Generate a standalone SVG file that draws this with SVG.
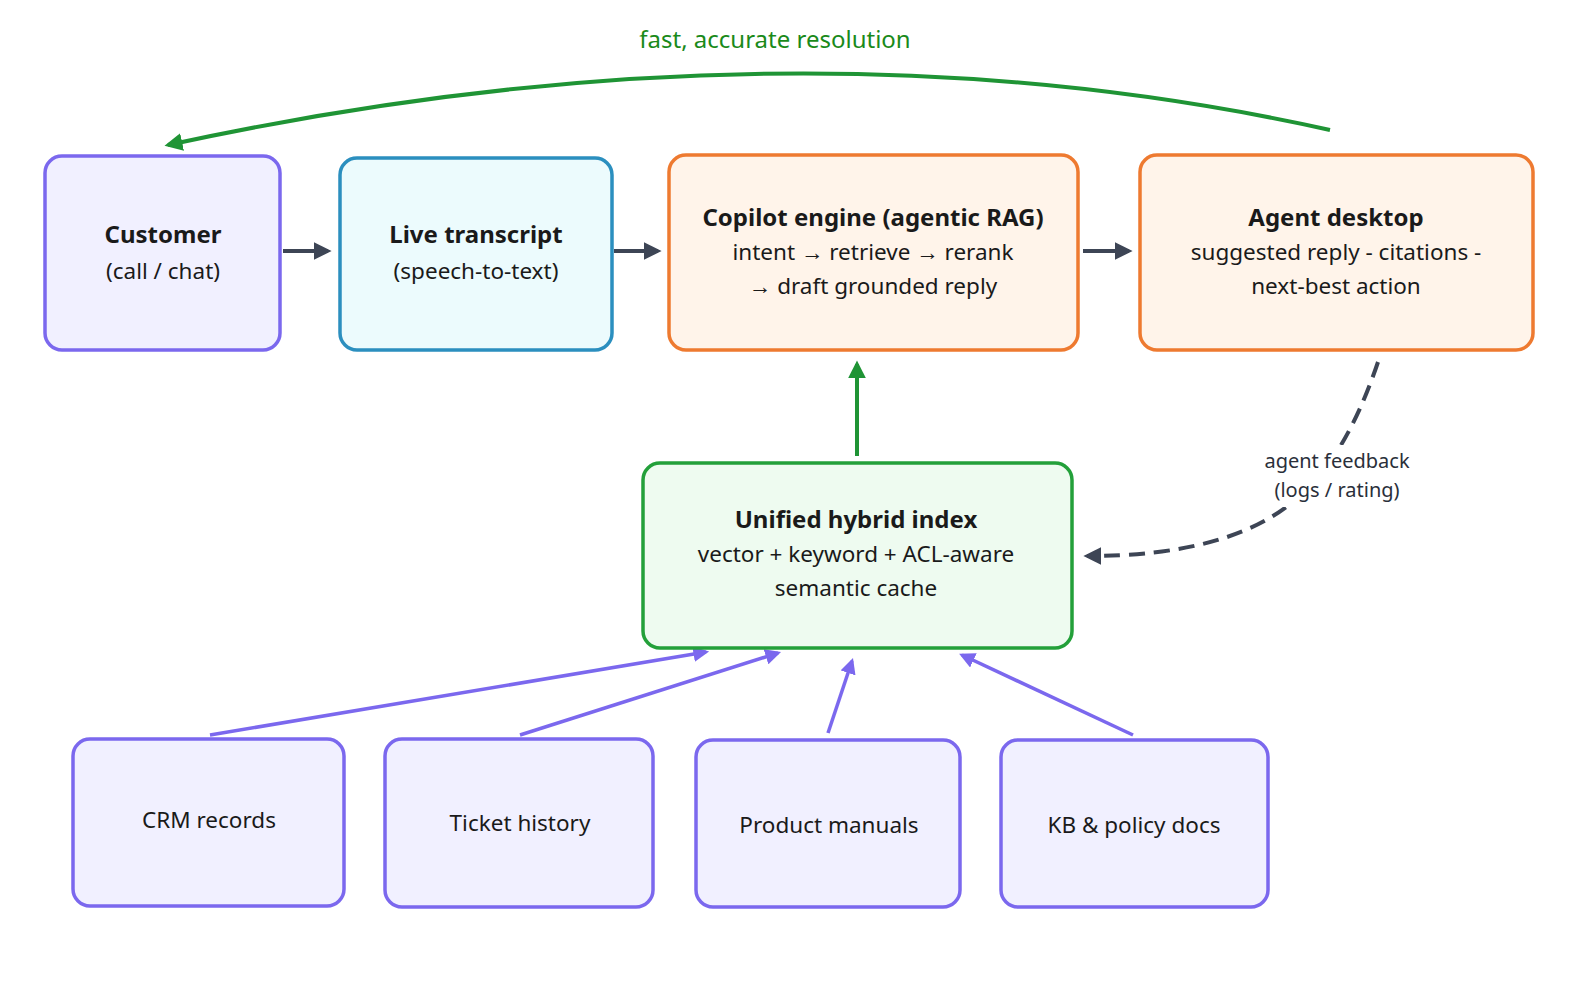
<svg xmlns="http://www.w3.org/2000/svg" width="1570" height="1002" viewBox="0 0 1570 1002">
<defs>
<marker id="ad" viewBox="0 0 10 10" refX="8" refY="5" markerWidth="4.5" markerHeight="4.5" orient="auto"><path d="M0,0L10,5L0,10z" fill="#3d4555"/></marker>
<marker id="ag" viewBox="0 0 10 10" refX="8" refY="5" markerWidth="4.5" markerHeight="4.5" orient="auto"><path d="M0,0L10,5L0,10z" fill="#1f9435"/></marker>
<marker id="ap" viewBox="0 0 10 10" refX="8" refY="5" markerWidth="4.5" markerHeight="4.5" orient="auto"><path d="M0,0L10,5L0,10z" fill="#7b68ee"/></marker>
</defs>
<style>
text{font-family:"Noto Sans","Open Sans",sans-serif;fill:#1a1a1a;text-anchor:middle}
.t{font-size:24px;font-weight:bold}
.s{font-size:22.5px}
.pu{fill:#f1f0ff;stroke:#7b68ee;stroke-width:3.5}
.bl{fill:#ecfbfd;stroke:#2b8fbf;stroke-width:3.5}
.or{fill:#fff4ea;stroke:#ee7a30;stroke-width:3.5}
.gr{fill:#eefbf0;stroke:#23a03a;stroke-width:3.5}
.cd{stroke:#3d4555;stroke-width:4;fill:none;marker-end:url(#ad)}
.cg{stroke:#1f9435;stroke-width:4;fill:none;marker-end:url(#ag)}
.cp{stroke:#7b68ee;stroke-width:3.5;fill:none;marker-end:url(#ap)}
</style>
<rect width="1570" height="1002" fill="#fff"/>
<g id="connectors">
<path class="cg" d="M1330,130 Q790,10 168,145"/>
<line class="cd" x1="283" y1="251" x2="328" y2="251"/>
<line class="cd" x1="614" y1="251" x2="658" y2="251"/>
<line class="cd" x1="1083" y1="251" x2="1129" y2="251"/>
<line class="cg" x1="857" y1="456" x2="857" y2="364"/>
<path class="cd" d="M1378,362 Q1345,460 1295,500 Q1230,556 1087,556" stroke-dasharray="16,9" stroke-width="3.5"/>
<line class="cp" x1="210" y1="735" x2="706" y2="652"/>
<line class="cp" x1="520" y1="735" x2="778" y2="653"/>
<line class="cp" x1="828" y1="733" x2="852" y2="661"/>
<line class="cp" x1="1133" y1="735" x2="962" y2="655"/>
<text x="775" y="48" style="font-size:24px;fill:#1a8a1a">fast, accurate resolution</text>
<rect x="1255" y="445" width="165" height="62" fill="#fff"/>
<text x="1337" y="468" style="font-size:20px;fill:#2a2f3a">agent feedback</text>
<text x="1337" y="497" style="font-size:20px;fill:#2a2f3a">(logs / rating)</text>
</g>
<g id="customer"><rect class="pu" x="45" y="156" width="235" height="194" rx="17"/><text class="t" x="163" y="243">Customer</text><text class="s" x="163" y="279">(call / chat)</text></g>
<g id="transcript"><rect class="bl" x="340" y="158" width="272" height="192" rx="17"/><text class="t" x="476" y="243">Live transcript</text><text class="s" x="476" y="279">(speech-to-text)</text></g>
<g id="copilot"><rect class="or" x="669" y="155" width="409" height="195" rx="17"/><text class="t" x="873" y="226">Copilot engine (agentic RAG)</text><text class="s" x="873" y="260">intent → retrieve → rerank</text><text class="s" x="873" y="294">→ draft grounded reply</text></g>
<g id="desktop"><rect class="or" x="1140" y="155" width="393" height="195" rx="17"/><text class="t" x="1336" y="226">Agent desktop</text><text class="s" x="1336" y="260">suggested reply - citations -</text><text class="s" x="1336" y="294">next-best action</text></g>
<g id="index"><rect class="gr" x="643" y="463" width="429" height="185" rx="17"/><text class="t" x="856" y="528">Unified hybrid index</text><text class="s" x="856" y="562">vector + keyword + ACL-aware</text><text class="s" x="856" y="596">semantic cache</text></g>
<g id="crm"><rect class="pu" x="73" y="739" width="271" height="167" rx="17"/><text class="s" x="209" y="828">CRM records</text></g>
<g id="ticket"><rect class="pu" x="385" y="739" width="268" height="168" rx="17"/><text class="s" x="520" y="831">Ticket history</text></g>
<g id="manuals"><rect class="pu" x="696" y="740" width="264" height="167" rx="17"/><text class="s" x="829" y="833">Product manuals</text></g>
<g id="kb"><rect class="pu" x="1001" y="740" width="267" height="167" rx="17"/><text class="s" x="1134" y="833">KB &amp; policy docs</text></g>
</svg>
